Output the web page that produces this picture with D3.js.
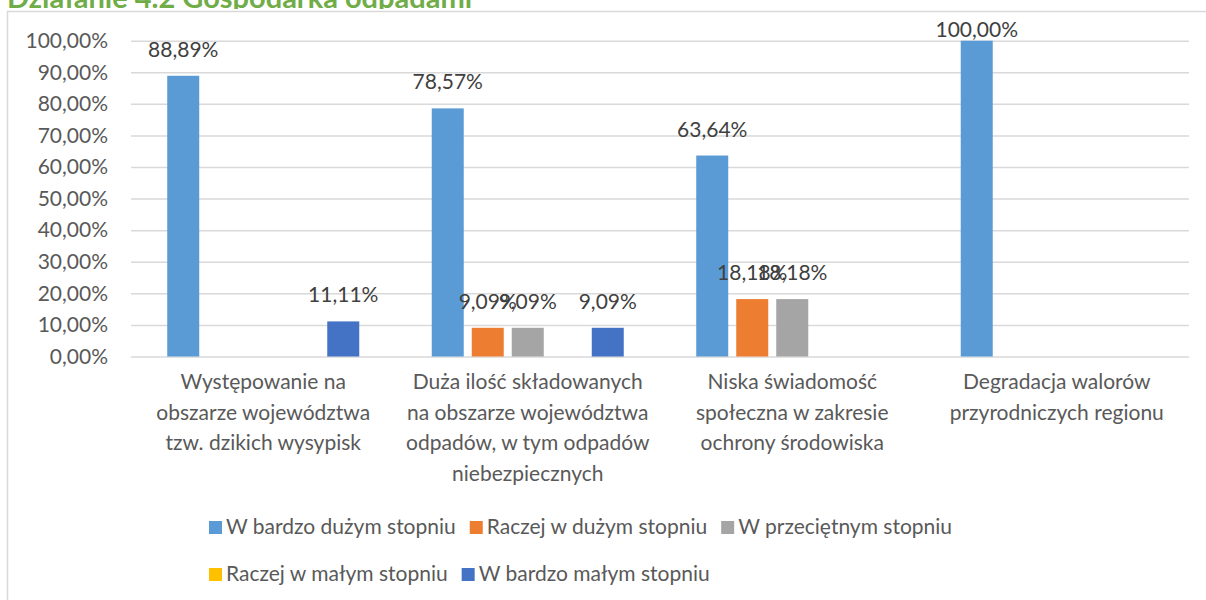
<!DOCTYPE html>
<html>
<head>
<meta charset="utf-8">
<script src="https://cdn.jsdelivr.net/npm/d3@7"></script>
<style>
  html, body { margin: 0; padding: 0; background: #fff; }
  svg { display: block; }
</style>
</head>
<body>
<svg id="chart" width="1206" height="600"></svg>
<script>
// Działanie 4.2 — clustered bars, five answer levels per problem

const categories = [
  ['Występowanie na', 'obszarze województwa', 'tzw. dzikich wysypisk'],
  ['Duża ilość składowanych', 'na obszarze województwa', 'odpadów, w tym odpadów', 'niebezpiecznych'],
  ['Niska świadomość', 'społeczna w zakresie', 'ochrony środowiska'],
  ['Degradacja walorów', 'przyrodniczych regionu']
];
const seriesNames = [
  'W bardzo dużym stopniu',
  'Raczej w dużym stopniu',
  'W przeciętnym stopniu',
  'Raczej w małym stopniu',
  'W bardzo małym stopniu'
];
const seriesColors = ['#5b9bd5', '#ed7d31', '#a5a5a5', '#ffc000', '#4472c4'];

// values per category, in series order
const values = [
  [88.89, 0, 0, 0, 11.11],
  [78.57, 9.09, 9.09, 0, 9.09],
  [63.64, 18.18, 18.18, 0, 0],
  [100.00, 0, 0, 0, 0]
];
const yTicks = [0, 10, 20, 30, 40, 50, 60, 70, 80, 90, 100];

const FONT = 'Lato, "Open Sans", sans-serif';
const fmt = v => v.toFixed(2).replace('.', ',') + '%';

const svg = d3.select('#chart');

// ─── Frame + title (title is cut by the page edge, as in the source) ─────────
svg.append('defs').append('clipPath')
  .attr('id', 'title-clip')
  .append('rect')
  .attr('x', 0).attr('y', 0).attr('width', 1206).attr('height', 9);

svg.append('rect')
  .attr('x', 7.5).attr('y', 11.5)
  .attr('width', 1230).attr('height', 620)
  .attr('fill', 'none')
  .attr('stroke', '#d9d9d9')
  .attr('stroke-width', 1.5);

svg.append('text')
  .attr('x', 7).attr('y', 8)
  .attr('clip-path', 'url(#title-clip)')
  .attr('font-family', FONT)
  .attr('font-size', 29)
  .attr('font-weight', 700)
  .attr('fill', '#70ad47')
  .text('Działanie 4.2 Gospodarka odpadami');

// ─── Scales ───────────────────────────────────────────────────────────────────
const plotL = 131, plotR = 1189;
const y = d3.scaleLinear().domain([0, 100]).range([356.5, 40.7]);

const x0 = d3.scaleBand()
  .domain(d3.range(categories.length))
  .range([plotL, plotR])
  .paddingInner(0.274)
  .paddingOuter(0.137);

const x1 = d3.scaleBand()
  .domain(d3.range(seriesNames.length))
  .range([0, x0.bandwidth()])
  .paddingInner(0.2);

// ─── Grid + y axis ────────────────────────────────────────────────────────────
const yAxis = svg.append('g')
  .attr('transform', `translate(${plotL},0)`)
  .call(d3.axisLeft(y).tickValues(yTicks).tickSize(-(plotR - plotL)).tickPadding(23).tickFormat(fmt));

yAxis.select('.domain').remove();
yAxis.selectAll('line').attr('stroke', '#d9d9d9').attr('stroke-width', 1.5);
yAxis.selectAll('text')
  .attr('font-family', FONT)
  .attr('font-size', 21)
  .attr('fill', '#595959');

// ─── Bars ─────────────────────────────────────────────────────────────────────
const groups = svg.append('g')
  .selectAll('g')
  .data(values)
  .join('g')
  .attr('transform', (d, i) => `translate(${x0(i)},0)`);

const cells = d => d.map((v, s) => ({ v, s })).filter(c => c.v > 0);

groups.selectAll('rect')
  .data(cells)
  .join('rect')
  .attr('x', d => x1(d.s))
  .attr('y', d => y(d.v))
  .attr('width', x1.bandwidth())
  .attr('height', d => y(0) - y(d.v))
  .attr('fill', d => seriesColors[d.s]);

// Data labels (the overlapping pairs are how the source draws them)
groups.selectAll('text')
  .data(cells)
  .join('text')
  .attr('x', d => x1(d.s) + x1.bandwidth() / 2)
  .attr('y', d => Math.max(y(d.v) - 19, 37))
  .attr('text-anchor', 'middle')
  .attr('font-family', FONT)
  .attr('font-size', 21)
  .attr('fill', '#404040')
  .text(d => fmt(d.v));

// ─── Category labels ──────────────────────────────────────────────────────────
svg.append('g')
  .selectAll('text')
  .data(categories)
  .join('text')
  .attr('x', (d, i) => x0(i) + x0.bandwidth() / 2)
  .attr('y', 389)
  .attr('text-anchor', 'middle')
  .attr('font-family', FONT)
  .attr('font-size', 21)
  .attr('fill', '#595959')
  .selectAll('tspan')
  .data(d => d)
  .join('tspan')
  .attr('x', function () { return this.parentNode.getAttribute('x'); })
  .attr('dy', (d, i) => i === 0 ? 0 : 30.6)
  .text(d => d);

// ─── Legend ───────────────────────────────────────────────────────────────────
const legendRows = [[0, 1, 2], [3, 4]];
const legendRowY = [527, 574];

legendRows.forEach((row, r) => {
  let lx = 209;
  row.forEach(s => {
    const item = svg.append('g').attr('transform', `translate(${lx},${legendRowY[r]})`);
    item.append('rect')
      .attr('x', 0).attr('y', -6)
      .attr('width', 13).attr('height', 13)
      .attr('fill', seriesColors[s]);
    const t = item.append('text')
      .attr('x', 17).attr('y', 7)
      .attr('font-family', FONT)
      .attr('font-size', 21)
      .attr('fill', '#595959')
      .text(seriesNames[s]);
    lx += 17 + t.node().getComputedTextLength() + 14;
  });
});
</script>
</body>
</html>
